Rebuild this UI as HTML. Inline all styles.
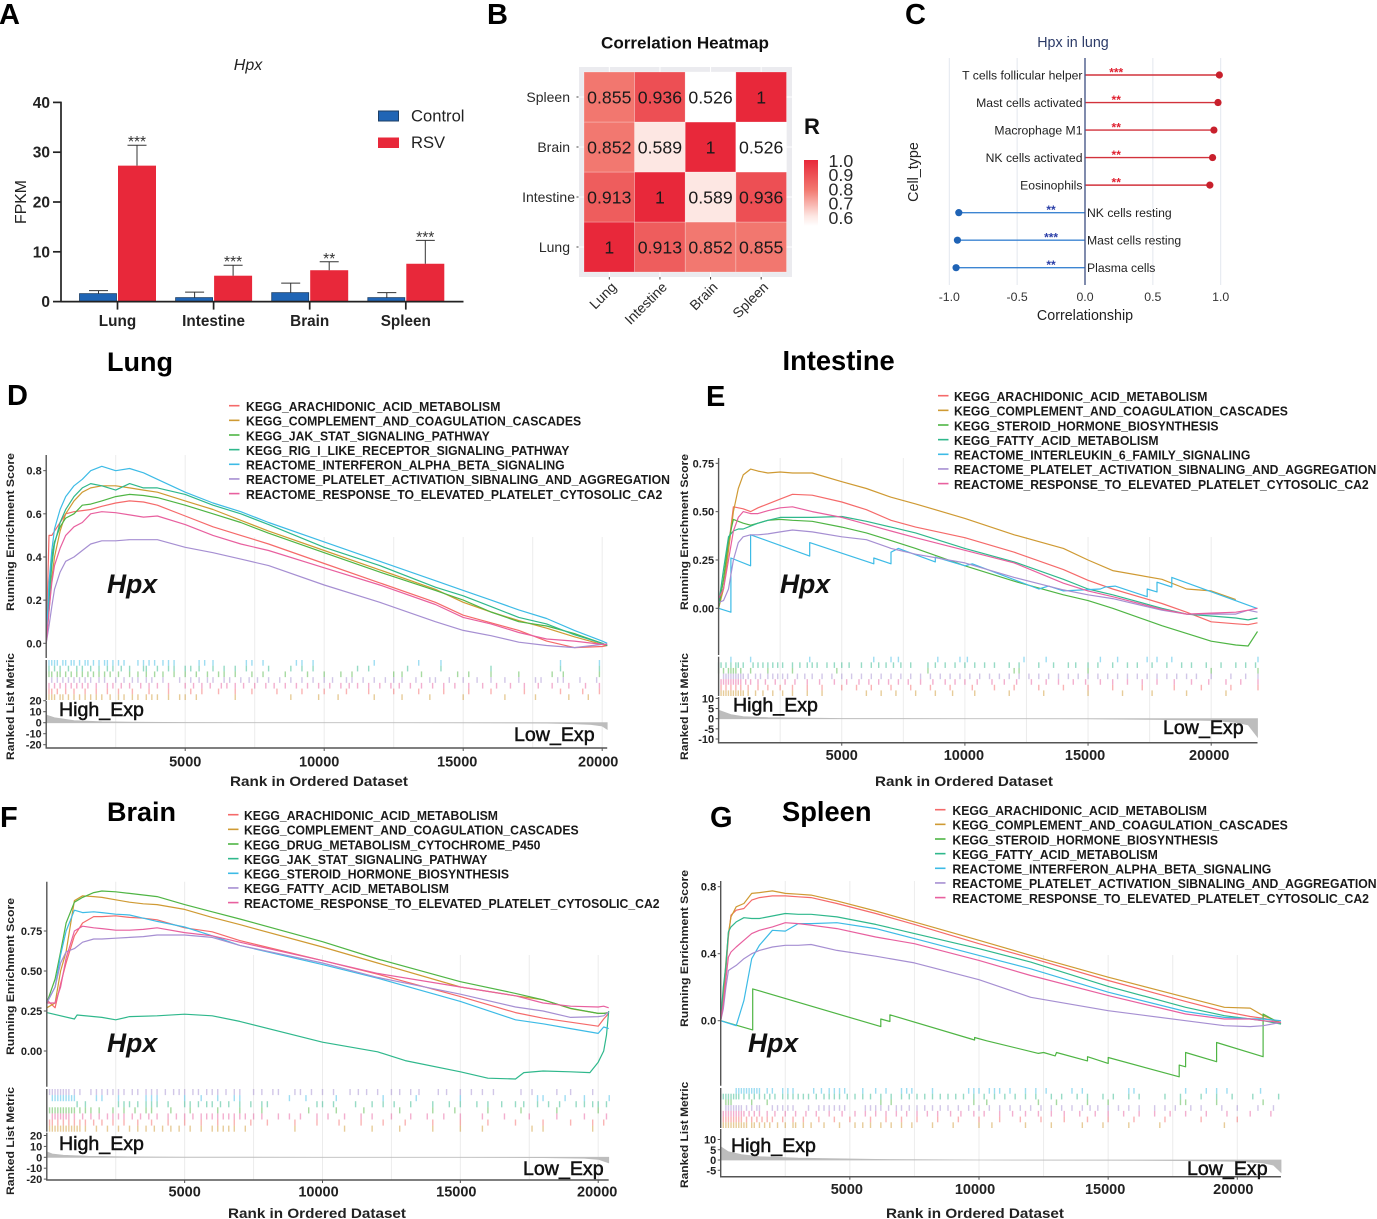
<!DOCTYPE html>
<html lang="en">
<head>
<meta charset="utf-8">
<title>Hpx expression, correlation and GSEA figure</title>
<style>
html,body{margin:0;padding:0;background:#fff;}
svg{display:block;}
text{font-family:"Liberation Sans",sans-serif;}
.b{font-weight:bold;}
</style>
</head>
<body>
<svg id="fig" xmlns="http://www.w3.org/2000/svg" width="1377" height="1219" viewBox="0 0 1377 1219">
  <rect x="0" y="0" width="1377" height="1219" fill="#fff"/>
  <text class="b" x="-1" y="24" font-size="29">A</text>
  <text class="b" x="487" y="24" font-size="29">B</text>
  <text class="b" x="905" y="24" font-size="29">C</text>
  <text class="b" x="7" y="405" font-size="29">D</text>
  <text class="b" x="706" y="406" font-size="29">E</text>
  <text class="b" x="0" y="827" font-size="29">F</text>
  <text class="b" x="710" y="827" font-size="29">G</text>
  <text class="b" x="107" y="371" font-size="27">Lung</text>
  <text class="b" x="782.5" y="370" font-size="27.3">Intestine</text>
  <text class="b" x="107" y="821" font-size="27">Brain</text>
  <text class="b" x="782" y="821" font-size="27.3">Spleen</text>

  <g id="panel-a">
    <text x="248" y="70" font-size="16" font-style="italic" text-anchor="middle" fill="#222">Hpx</text>
    <text x="26" y="202" font-size="15.8" text-anchor="middle" fill="#222" transform="rotate(-90 26 202)">FPKM</text>
    <rect x="378.5" y="111" width="20" height="10" fill="#2065b5" stroke="#1d3f66" stroke-width="1"/>
    <text x="411" y="121.5" font-size="16.6" fill="#222">Control</text>
    <rect x="378" y="137.5" width="21" height="10.5" fill="#e8283a"/>
    <text x="411" y="148" font-size="16.6" fill="#222">RSV</text>
  </g>

  <g id="panel-b">
    <text class="b" x="685" y="48.5" font-size="16.5" text-anchor="middle" textLength="168" lengthAdjust="spacingAndGlyphs" fill="#111">Correlation Heatmap</text>
    <rect x="579" y="67" width="213" height="210" fill="#ebebef"/>
    <text class="b" x="804" y="134" font-size="22" fill="#111">R</text>
  </g>

  <g id="panel-c">
    <text x="1073" y="47" font-size="14.3" text-anchor="middle" fill="#2b3a67">Hpx in lung</text>
    <text x="1085" y="320" font-size="14.3" text-anchor="middle" fill="#222">Correlationship</text>
    <text x="918" y="172" font-size="14.3" text-anchor="middle" fill="#222" transform="rotate(-90 918 172)">Cell_type</text>
  </g>

  <g id="panel-d"></g>
  <g id="panel-e"></g>
  <g id="panel-f"></g>
  <g id="panel-g"></g>
</svg>

<script>
/* ---------- Panel A data ---------- */
const barCategories = ["Lung","Intestine","Brain","Spleen"];
const controlMeans = [1.6,0.8,1.8,0.8];
const controlUpper = [2.2,1.9,3.7,1.8];
const rsvMeans = [27.3,5.2,6.3,7.6];
const rsvUpper = [31.4,7.3,8.0,12.3];
const barStars = ["***","***","**","***"];
const barTicks = [0,10,20,30,40];

/* ---------- Panel B data ---------- */
const heatCategories = ["Lung","Intestine","Brain","Spleen"];
const heatLung = [1,0.913,0.852,0.855];
const heatIntestine = [0.913,1,0.589,0.936];
const heatBrain = [0.852,0.589,1,0.526];
const heatSpleen = [0.855,0.936,0.526,1];
const colorbarTicks = [1.0,0.9,0.8,0.7,0.6];

/* ---------- Panel C data ---------- */
const cellTypes = ["T cells follicular helper","Mast cells activated","Macrophage M1","NK cells activated","Eosinophils","NK cells resting","Mast cells resting","Plasma cells"];
const correlations = [0.99,0.98,0.95,0.94,0.92,-0.93,-0.94,-0.95];
const cellStars = ["***","**","**","**","**","**","***","**"];
const corrTicks = [-1,-0.5,0,0.5,1];

/* ---------- Shared GSEA ---------- */
const rankTicks = [5000,10000,15000,20000];

/* ---------- Panel D: lung ---------- */
const lungPathways = ["KEGG_ARACHIDONIC_ACID_METABOLISM","KEGG_COMPLEMENT_AND_COAGULATION_CASCADES","KEGG_JAK_STAT_SIGNALING_PATHWAY","KEGG_RIG_I_LIKE_RECEPTOR_SIGNALING_PATHWAY","REACTOME_INTERFERON_ALPHA_BETA_SIGNALING","REACTOME_PLATELET_ACTIVATION_SIBNALING_AND_AGGREGATION","REACTOME_RESPONSE_TO_ELEVATED_PLATELET_CYTOSOLIC_CA2"];
const lungRanks = [0,100,200,300,500,700,1000,1300,1600,2000,2500,3000,3500,4000,5000,6000,7000,8000,10000,12000,14000,15000,16000,17000,18000,19000,20000,20180];
const lungArachidonic = [0,.5,.5,.52,.56,.6,.61,.615,.62,.635,.65,.66,.655,.64,.59,.54,.5,.46,.37,.28,.19,.13,.095,.06,.01,-.02,-.015,-.01];
const lungComplement = [0,.15,.3,.4,.52,.6,.66,.7,.72,.73,.73,.72,.71,.7,.66,.62,.57,.52,.43,.34,.25,.19,.145,.105,.07,.03,-.005,-.01];
const lungJakStat = [0,.25,.4,.47,.54,.58,.6,.64,.645,.66,.68,.69,.685,.675,.64,.6,.56,.51,.42,.33,.245,.2,.145,.1,.08,.045,0,-.01];
const lungRigI = [0,.2,.36,.46,.56,.62,.68,.72,.74,.73,.71,.74,.72,.72,.69,.64,.6,.55,.445,.36,.26,.22,.17,.12,.09,.04,0,-.01];
const lungInterferon = [0,.28,.43,.53,.62,.68,.73,.76,.8,.82,.8,.81,.79,.76,.7,.65,.61,.56,.47,.38,.29,.245,.2,.155,.115,.06,.01,0];
const lungPlatelet = [0,.08,.17,.25,.33,.38,.4,.43,.46,.475,.475,.48,.48,.48,.445,.42,.39,.36,.27,.19,.1,.06,.035,.005,-.01,-.02,-.005,-.005];
const lungResponse = [0,.15,.28,.36,.44,.5,.54,.56,.6,.61,.605,.595,.585,.59,.55,.5,.46,.43,.35,.27,.18,.12,.09,.05,.02,.01,-.005,-.005];
const lungMetricRanks = [0,300,1000,2000,3500,5000,10000,15000,18000,19000,19600,20000,20180];
const lungMetricValues = [7,4.5,1.8,.8,.4,.2,0,-.1,-.4,-.9,-1.6,-3,-6];
const lungRugArachidonic = [0,1,2,4,7,10,14,18,22,26,31,37,44,52,56,62,68,74,83,92,100,108,116,125,134,143,152,160,172,185,193,199];
const lungRugComplement = [0,1,2,3,5,6,8,10,12,14,16,18,20,23,26,28,31,33,36,38,40,44,48,50,54,68,88,98,105,118,128,138,150,165,176,188,195];
const lungRugJakStat = [0,1,2,4,5,7,9,11,13,15,17,19,21,23,26,30,33,36,39,42,46,50,54,58,62,64,68,74,78,86,94,100,106,110,125,128,135,148,152,160,170,182,186,199];
const lungRugRigI = [1,3,5,8,11,13,16,19,22,24,27,30,35,36,40,44,46,50,52,55,60,64,68,72,80,88,92,96,112,116,130,142,160,185,199];
const lungRugInterferon = [1,2,3,4,6,7,9,10,12,14,15,17,19,21,22,24,26,28,33,35,37,39,42,44,46,55,57,60,72,74,78,90,92,96,118,134,142,185,199];
const lungRugPlatelet = [0,2,4,6,8,10,12,14,16,19,21,25,28,31,33,36,38,42,48,52,55,58,60,64,66,70,73,76,80,84,88,92,96,100,103,108,110,114,118,122,125,128,133,138,140,145,150,155,160,165,170,176,178,184,186,192,198];
const lungRugResponse = [1,3,5,7,9,11,13,15,18,22,24,27,30,34,37,40,44,50,53,56,59,63,65,68,71,75,79,82,86,90,94,98,102,106,109,112,116,120,124,127,131,135,139,143,147,152,157,162,167,172,177,182,188,194,199];

/* ---------- Panel E: intestine ---------- */
const intestinePathways = ["KEGG_ARACHIDONIC_ACID_METABOLISM","KEGG_COMPLEMENT_AND_COAGULATION_CASCADES","KEGG_STEROID_HORMONE_BIOSYNTHESIS","KEGG_FATTY_ACID_METABOLISM","REACTOME_INTERLEUKIN_6_FAMILY_SIGNALING","REACTOME_PLATELET_ACTIVATION_SIBNALING_AND_AGGREGATION","REACTOME_RESPONSE_TO_ELEVATED_PLATELET_CYTOSOLIC_CA2"];
const intestineRanks = [0,200,400,600,800,1000,1300,1600,2000,2500,3000,3800,5000,6000,7000,8000,10000,12000,14000,15000,16000,18000,19000,20000,21000,21500,21880];
const intestineArachidonic = [0,.15,.32,.525,.52,.515,.5,.52,.54,.565,.59,.585,.55,.51,.455,.42,.365,.29,.2,.145,.1,.025,-.02,-.07,-.08,-.085,-.075];
const intestineComplement = [0,.1,.3,.5,.62,.69,.72,.71,.7,.705,.7,.7,.655,.62,.575,.54,.465,.38,.31,.25,.195,.15,.1,.09,.045];
const intestineSteroid = [0,.15,.35,.46,.45,.44,.43,.44,.455,.46,.455,.45,.42,.39,.35,.31,.22,.14,.07,.04,0,-.09,-.13,-.17,-.19,-.195,-.12];
const intestineFatty = [.02,.2,.37,.4,.41,.41,.425,.44,.455,.47,.47,.47,.475,.45,.42,.39,.31,.24,.15,.1,.07,0,-.03,-.04,-.05,-.06,-.05];
const intestineIl6Ranks = [0,500,500,1300,1300,3700,3700,6300,6300,7000,7000,7300,8800,8800,10000,10300,13000,13400,14000,15500,15700,16100,17400,17400,17800,17800,18400,18400,21850,21880];
const intestineIl6 = [0,-.02,.26,.22,.38,.27,.34,.23,.26,.23,.29,.31,.24,.265,.22,.23,.1,.115,.09,.1,.11,.115,.06,.1,.085,.135,.11,.16,0,0];
const intestinePlatelet = [.03,.04,.1,.25,.34,.37,.38,.38,.385,.395,.405,.395,.37,.355,.31,.28,.235,.16,.095,.07,.05,-.01,-.03,-.03,-.03,-.01,-.02];
const intestineResponse = [.05,.1,.25,.4,.47,.5,.49,.49,.505,.52,.525,.5,.47,.435,.4,.365,.3,.235,.13,.09,.06,-.005,-.03,-.025,-.02,-.01,0];
const intestineMetricRanks = [0,500,1000,2000,5000,10000,15000,18000,20000,21000,21500,21880];
const intestineMetricValues = [4.2,2,1,.5,.1,0,-.1,-.4,-.9,-1.8,-3,-9];
const intestineRugArachidonic = [1,3,5,7,9,12,16,20,25,30,36,42,50,56,62,70,78,86,94,103,112,120,130,140,150,160,172,185,196,208,219];
const intestineRugComplement = [1,2,3,4,5,6,7,8,9,10,12,15,18,22,26,30,36,42,60,66,72,80,88,95,104,118,132,150,164,176,190,206];
const intestineRugSteroid = [0,2,4,5,6,7,9,13,20,30,48,85,120,122,150,200,219];
const intestineRugFatty = [0,1,3,5,7,8,10,14,16,18,20,22,24,26,30,33,36,38,40,44,47,50,53,58,62,65,68,71,74,78,85,88,92,96,100,104,108,112,118,122,130,136,142,145,150,154,160,166,170,176,182,188,192,198,204,210,214,218];
const intestineRugIl6 = [5,13,37,63,70,73,89,98,101,124,133,155,162,174,178,184,219];
const intestineRugPlatelet = [2,3,4,5,6,7,8,9,10,12,15,17,20,22,24,26,28,32,35,38,42,46,50,54,58,62,66,70,74,78,82,86,90,94,98,102,106,110,114,118,122,126,130,134,138,142,146,150,154,158,162,166,170,174,178,182,186,190,194,200,208,214,219];
const intestineRugResponse = [1,2,3,4,5,6,7,8,9,11,13,16,19,23,27,31,36,41,47,52,57,61,65,69,73,77,82,87,92,96,100,105,111,116,121,127,133,138,144,149,155,160,166,172,178,185,192,199,206,212,219];

/* ---------- Panel F: brain ---------- */
const brainPathways = ["KEGG_ARACHIDONIC_ACID_METABOLISM","KEGG_COMPLEMENT_AND_COAGULATION_CASCADES","KEGG_DRUG_METABOLISM_CYTOCHROME_P450","KEGG_JAK_STAT_SIGNALING_PATHWAY","KEGG_STEROID_HORMONE_BIOSYNTHESIS","KEGG_FATTY_ACID_METABOLISM","REACTOME_RESPONSE_TO_ELEVATED_PLATELET_CYTOSOLIC_CA2"];
const brainRanks = [0,300,500,700,1000,1300,1700,2000,2500,3000,3500,4000,5000,6000,7000,10000,12000,15000,17000,18000,19000,20000,20200,20380];
const brainArachidonic = [.32,.27,.42,.55,.72,.8,.84,.84,.845,.835,.83,.82,.77,.745,.69,.565,.48,.34,.24,.205,.18,.155,.2,.235];
const brainComplement = [.27,.3,.5,.62,.94,.97,.965,.96,.945,.93,.92,.915,.885,.835,.79,.65,.55,.4,.345,.32,.265,.235,.235,.24];
const brainDrug = [.3,.45,.62,.8,.93,.96,.99,1,.995,.985,.975,.965,.915,.87,.825,.683,.575,.433,.36,.32,.267,.235,.235,.24];
const brainJakRanks = [0,1000,1100,2000,2500,3000,4000,5000,6000,7000,10000,12000,13000,15000,16000,17000,17300,18000,19000,19700,20000,20200,20300,20380];
const brainJak = [.24,.2,.225,.21,.195,.215,.22,.23,.22,.185,.055,-.005,-.06,-.13,-.17,-.175,-.135,-.125,-.13,-.135,-.07,0,.1,.25];
const brainSteroid = [.3,.4,.6,.75,.88,.865,.87,.865,.855,.85,.83,.81,.775,.72,.66,.54,.455,.31,.195,.17,.14,.11,.15,.14];
const brainFatty = [.3,.4,.55,.62,.64,.68,.7,.7,.705,.71,.715,.725,.725,.71,.66,.55,.46,.355,.275,.25,.21,.215,.22,.245];
const brainResponse = [.3,.3,.4,.58,.75,.78,.77,.765,.755,.755,.76,.77,.74,.72,.68,.565,.485,.4,.345,.3,.28,.275,.28,.27];
const brainMetricRanks = [0,200,600,1500,3000,5000,10000,15000,18000,19500,20000,20380];
const brainMetricValues = [5,3,1.8,.9,.4,.2,0,-.1,-.3,-.8,-1.8,-5];
const brainRugArachidonic = [1,2,4,6,8,10,12,14,17,20,24,28,33,38,44,50,56,62,68,74,80,90,98,106,114,122,130,140,150,160,170,180,190,198,202];
const brainRugComplement = [1,2,3,4,5,6,7,8,9,10,11,12,14,18,22,26,30,33,36,39,42,45,48,52,56,60,62,64,66,68,72,90,108,118,128,140,150,158,176,180,198];
const brainRugDrug = [1,2,3,4,5,6,7,8,9,10,12,14,16,19,24,28,32,36,38,45,52,62,70,78,95,105,115,128,140,148,160,172,185,200];
const brainRugJak = [11,14,26,28,30,33,36,38,40,44,50,52,55,58,60,63,66,70,74,78,80,98,100,104,112,118,122,126,132,140,146,150,156,160,165,170,173,178,182,186,192,195,198,200,203];
const brainRugSteroid = [2,3,4,5,6,7,8,9,10,18,20,26,36,38,40,50,56,62,68,70,88,94,105,122,134,150,178,180,188,195,204];
const brainRugFatty = [0,1,2,3,4,5,6,7,8,10,12,16,18,20,22,24,26,28,31,33,36,38,40,43,46,48,50,53,55,58,60,62,65,68,70,75,78,82,84,90,92,96,100,104,110,113,116,120,125,128,132,135,142,145,150,154,158,162,172,176,185,190,198];
const brainRugResponse = [2,3,4,5,6,7,8,10,13,16,19,22,24,26,28,31,34,37,40,44,47,50,53,56,58,60,62,64,66,68,70,72,75,78,84,88,92,98,102,108,114,118,125,132,138,144,150,158,166,175,185,195,203];

/* ---------- Panel G: spleen ---------- */
const spleenPathways = ["KEGG_ARACHIDONIC_ACID_METABOLISM","KEGG_COMPLEMENT_AND_COAGULATION_CASCADES","KEGG_STEROID_HORMONE_BIOSYNTHESIS","KEGG_FATTY_ACID_METABOLISM","REACTOME_INTERFERON_ALPHA_BETA_SIGNALING","REACTOME_PLATELET_ACTIVATION_SIBNALING_AND_AGGREGATION","REACTOME_RESPONSE_TO_ELEVATED_PLATELET_CYTOSOLIC_CA2"];
const spleenRanks = [0,100,200,300,400,600,900,1200,1500,2000,2500,3000,3500,4500,6000,7500,10000,12000,15000,18000,19500,20500,21000,21690];
const spleenArachidonic = [0,.12,.3,.5,.63,.66,.67,.72,.735,.745,.745,.74,.735,.7,.64,.575,.46,.375,.24,.115,.055,.025,.015,-.01];
const spleenComplement = [0,.15,.35,.52,.62,.68,.7,.76,.765,.775,.76,.755,.75,.715,.655,.59,.48,.39,.26,.14,.08,.075,.03,-.01];
const spleenSteroidRanks = [0,1240,1240,6200,6200,6550,6550,9830,9830,10300,12300,12500,12950,13000,14200,14200,15000,15000,17750,17750,18000,18000,19200,19200,21000,21000,21690];
const spleenSteroid = [0,-.055,.19,-.035,.01,-.005,.035,-.115,-.1,-.12,-.195,-.19,-.21,-.19,-.24,-.215,-.255,-.22,-.335,-.265,-.275,-.19,-.245,-.13,-.215,.04,-.02];
const spleenFatty = [0,.2,.33,.53,.56,.59,.615,.61,.61,.625,.64,.635,.635,.62,.575,.52,.43,.35,.205,.08,.03,.01,0,-.02];
const spleenInterferon = [0,-.005,-.01,-.015,-.02,-.03,.12,.37,.45,.54,.535,.58,.58,.585,.55,.49,.39,.31,.17,.055,.02,.012,.01,0];
const spleenPlatelet = [0,.07,.2,.3,.31,.33,.37,.4,.42,.44,.45,.45,.455,.42,.385,.345,.245,.14,.06,0,-.03,-.035,-.03,-.01];
const spleenResponse = [0,.1,.25,.38,.41,.44,.48,.52,.54,.56,.585,.58,.57,.55,.5,.46,.36,.27,.15,.04,.01,.01,0,-.01];
const spleenMetricRanks = [0,300,800,1500,3000,6000,10000,15000,18000,20000,21000,21400,21690];
const spleenMetricValues = [6.5,4,2.6,1.6,.9,.3,0,-.1,-.3,-.7,-1.4,-2.5,-6];
const spleenRugArachidonic = [1,2,3,4,5,6,7,8,10,12,14,16,18,20,24,28,32,38,44,50,58,64,70,76,84,92,100,108,116,124,133,142,150,160,172,186,200];
const spleenRugComplement = [1,2,3,4,5,6,7,8,9,10,12,13,15,17,19,22,25,28,29,32,35,40,46,52,55,58,62,66,70,74,82,90,100,105,118,128,140,148,158,170,195];
const spleenRugSteroid = [2,3,4,12,18,62,66,98,103,123,130,142,150,178,180,192,210];
const spleenRugFatty = [0,1,2,3,4,5,6,7,9,11,13,15,17,19,21,24,26,28,30,32,34,37,40,42,44,46,49,52,55,58,62,66,70,73,76,79,82,85,88,91,94,98,102,106,110,114,118,122,128,132,138,142,148,152,158,162,172,178,186,192,198,206,216];
const spleenRugInterferon = [6,7,8,9,10,11,12,13,14,15,18,20,24,26,28,36,39,42,44,46,48,55,60,64,70,72,74,82,96,98,100,104,106,108,112,118,122,126,136,140,158,160,180,188,192,196,209];
const spleenRugPlatelet = [2,3,4,5,6,7,8,10,12,14,15,20,22,24,26,28,34,38,40,42,44,46,48,56,58,60,62,65,68,70,73,76,79,82,85,88,92,96,100,104,108,112,116,120,124,128,132,136,140,143,146,150,154,158,162,168,172,176,182,186,194,200,208,214];
const spleenRugResponse = [1,2,3,4,5,6,7,8,9,11,13,15,18,21,25,29,33,37,42,47,52,56,60,64,68,72,76,80,84,89,93,98,102,108,113,118,123,128,133,139,145,150,156,162,168,174,180,188,196,205,213];

/* ---------- Helpers ---------- */
const NS = "http://www.w3.org/2000/svg";
function mk(parent, tag, attrs, txt){
  const el = document.createElementNS(NS, tag);
  for (const k in attrs) el.setAttribute(k, attrs[k]);
  if (txt !== undefined) el.textContent = txt;
  parent.appendChild(el);
  return el;
}
function linear(d0, r0, d1, r1){
  return function(v){ return r0 + (v - d0) * (r1 - r0) / (d1 - d0); };
}
function slug(s){ return String(s).toLowerCase().replace(/[^a-z0-9]+/g,'-').replace(/^-|-$/g,''); }

/* ---------- Panel A ---------- */
(function(){
  const g = document.getElementById('panel-a');
  const y = linear(0, 301.6, 40, 102.4);
  const xc = linear(0, 117.5, 1, 213.6);
  const axisX = 61, barW = 38;
  barTicks.forEach(function(t){
    const tick = mk(g,'line',{x1:axisX-8,x2:axisX,y1:y(t),y2:y(t),stroke:'#222','stroke-width':1.7});
    
    
    const lab = mk(g,'text',{x:50,y:y(t)+5.5,'font-size':15.5,'font-weight':'bold','text-anchor':'end',fill:'#222'},t);
    
    
  });
  barCategories.forEach(function(c,i){
    const cx = xc(i);
    const ctl = mk(g,'rect',{x:cx-barW,y:y(controlMeans[i]),width:barW-1,height:y(0)-y(controlMeans[i]),fill:'#2065b5',stroke:'#1d3f66','stroke-width':.8});
    
    
    const ctlErr = mk(g,'path',{d:'M'+(cx-19)+' '+y(controlMeans[i])+'V'+y(controlUpper[i])+'m-9.5 0h19',fill:'none',stroke:'#333','stroke-width':1});
    
    
    const rsv = mk(g,'rect',{x:cx+.5,y:y(rsvMeans[i]),width:barW,height:y(0)-y(rsvMeans[i]),fill:'#e8283a'});
    
    
    const rsvErr = mk(g,'path',{d:'M'+(cx+19.5)+' '+y(rsvMeans[i])+'V'+y(rsvUpper[i])+'m-9.5 0h19',fill:'none',stroke:'#333','stroke-width':1});
    
    
    const st = mk(g,'text',{x:cx+19.5,y:y(rsvUpper[i])+2,'font-size':15.5,'text-anchor':'middle',fill:'#333'},barStars[i]);
    
    
    const tick = mk(g,'line',{x1:cx,x2:cx,y1:y(0),y2:y(0)+8,stroke:'#222','stroke-width':1.7});
    
    
    const lab = mk(g,'text',{x:cx,y:326,'font-size':15.3,'font-weight':'bold','text-anchor':'middle',fill:'#222'},c);
    
    
  });
  const ya = mk(g,'line',{x1:axisX,x2:axisX,y1:y(40)-.8,y2:y(0)+.8,stroke:'#222','stroke-width':1.7});
  
  
  const xa = mk(g,'line',{x1:axisX,x2:463.5,y1:y(0),y2:y(0),stroke:'#222','stroke-width':1.7});
  
  
})();

/* ---------- Panel B ---------- */
(function(){
  const g = document.getElementById('panel-b');
  const rows = [heatLung,heatIntestine,heatBrain,heatSpleen];
  const xCol = linear(0,584,4,786.5);
  const yRow = linear(0,272,4,72);
  function heatColor(v){
    const t = (v-0.526)/0.474;
    const stops = [[0,255,255,255],[.133,253,231,227],[.69,242,120,112],[.82,238,92,92],[1,232,40,58]];
    for (let i=1;i<stops.length;i++){
      if (t<=stops[i][0]){
        const a=stops[i-1], b=stops[i], f=(t-a[0])/(b[0]-a[0]);
        return 'rgb('+[1,2,3].map(function(k){return Math.round(a[k]+(b[k]-a[k])*f);}).join(',')+')';
      }
    }
    return '#e8283a';
  }
  heatCategories.forEach(function(c,i){
    const ly = (yRow(i)+yRow(i+1))/2;
    const lx = (xCol(i)+xCol(i+1))/2;
    const gh = mk(g,'line',{x1:579,x2:792,y1:ly,y2:ly,stroke:'#fff','stroke-width':1});
    
    
    const gv = mk(g,'line',{x1:lx,x2:lx,y1:67,y2:277,stroke:'#fff','stroke-width':1});
    
    
  });
  rows.forEach(function(row,r){
    row.forEach(function(v,c){
      const cell = mk(g,'rect',{x:xCol(c),y:yRow(r+1),width:xCol(c+1)-xCol(c),height:yRow(r)-yRow(r+1),fill:heatColor(v),stroke:'#fff','stroke-opacity':.35,'stroke-width':.7});
      
      
      const t = mk(g,'text',{x:(xCol(c)+xCol(c+1))/2,y:(yRow(r)+yRow(r+1))/2+6.3,'font-size':17.7,'text-anchor':'middle',fill:'#1a1a1a'},String(v));
      
      
    });
  });
  heatCategories.forEach(function(c,i){
    const ly = (yRow(i)+yRow(i+1))/2;
    const lx = (xCol(i)+xCol(i+1))/2;
    const yl = mk(g,'text',{x:c==='Intestine'?575:570,y:ly+5,'font-size':14,'text-anchor':'end',fill:'#2a2a2a'},c);
    
    
    const yt = mk(g,'line',{x1:576.5,x2:578.5,y1:ly,y2:ly,stroke:'#444','stroke-width':1});
    
    
    const xt = mk(g,'line',{x1:lx,x2:lx,y1:277,y2:279.5,stroke:'#444','stroke-width':1});
    
    
    const ax = lx+8, ay = 288;
    const xl = mk(g,'text',{x:ax,y:ay,'font-size':14,'text-anchor':'end',fill:'#2a2a2a',transform:'rotate(-45 '+ax+' '+ay+')'},c);
    
    
  });
  const defs = mk(g,'defs',{});
  const grad = mk(defs,'linearGradient',{id:'rGrad',x1:0,y1:0,x2:0,y2:1});
  mk(grad,'stop',{offset:'0','stop-color':'#e8283a'});
  mk(grad,'stop',{offset:'.45','stop-color':'#f2786f'});
  mk(grad,'stop',{offset:'.85','stop-color':'#fde7e3'});
  mk(grad,'stop',{offset:'1','stop-color':'#ffffff'});
  const bar = mk(g,'rect',{x:804,y:160,width:14,height:66,fill:'url(#rGrad)'});
  
  
  const cy = linear(1,160.7,0.6,217.5);
  colorbarTicks.forEach(function(t){
    const l = mk(g,'text',{x:828.5,y:cy(t)+6.3,'font-size':17.8,fill:'#2a2a2a'},t.toFixed(1));
    
    
  });
})();

/* ---------- Panel C ---------- */
(function(){
  const g = document.getElementById('panel-c');
  const x = linear(-1,949.3,1,1220.7);
  const y = linear(0,75,7,267.7);
  corrTicks.forEach(function(t){
    if (t!==0){
      const gl = mk(g,'line',{x1:x(t),x2:x(t),y1:58,y2:285,stroke:'#e3e7ee','stroke-width':1});
      
      
    }
    const lab = mk(g,'text',{x:x(t),y:301,'font-size':12.3,'text-anchor':'middle',fill:'#333'},t.toFixed(1));
    
    
  });
  cellTypes.forEach(function(c,i){
    const v = correlations[i], pos = v>0;
    const line = mk(g,'line',{x1:x(0),x2:x(v),y1:y(i),y2:y(i),stroke:pos?'#d2323c':'#3d85d2','stroke-width':1.4});
    
    
    const dot = mk(g,'circle',{cx:x(v),cy:y(i),r:3.6,fill:pos?'#c8202c':'#1f63b5'});
    
    
    const lab = mk(g,'text',{x:pos?1082.5:1087,y:y(i)+4.3,'font-size':12.2,'text-anchor':pos?'end':'start',fill:'#222'},c);
    
    
    const st = mk(g,'text',{x:x(pos?0.23:-0.25),y:y(i)+1.5,'font-size':12,'font-weight':'bold','text-anchor':'middle',fill:pos?'#e02030':'#2b3fa8'},cellStars[i]);
    
    
  });
  const z = mk(g,'line',{x1:x(0),x2:x(0),y1:58,y2:285,stroke:'#4a5a8a','stroke-width':1.4});
  
  
})();

/* ---------- Panels D-G ---------- */
const pathwayColors = ['#f56a6a','#cf9a33','#4fb544','#2fb88c','#3dbbe6','#a68fd2','#e8609f'];

function drawGsea(cfg){
  const g = document.getElementById(cfg.id);
  const x = function(r){ return cfg.x0 + r*cfg.pxPerRank; };
  const yScore = function(v){ return cfg.score0 - v*cfg.pxPerScore; };
  const yMetric = function(v){ return cfg.metric0 - v*cfg.pxPerMetric; };
  const xEnd = x(cfg.maxRank);

  for (let r=2500; r<=cfg.maxRank; r+=2500){
    const px = x(r);
    const top = px>cfg.clipX ? cfg.clipY : cfg.top;
    const gl = mk(g,'line',{x1:px,x2:px,y1:top,y2:cfg.axisY,stroke:'#ececec','stroke-width':1});
    
    
  }

  const rowH = (cfg.rugBottom-cfg.rugTop)/7;
  cfg.rugOrder.forEach(function(si,row){
    cfg.rugs[si].forEach(function(h){
      const t = mk(g,'line',{x1:x(h*100),x2:x(h*100),y1:cfg.rugTop+row*rowH,y2:cfg.rugTop+(row+1)*rowH,stroke:pathwayColors[si],'stroke-width':1.4,'stroke-opacity':.5});
      
      
    });
  });

  let area = 'M'+x(cfg.metricRanks[0])+' '+yMetric(0);
  cfg.metricRanks.forEach(function(r,i){ area += 'L'+x(r).toFixed(1)+' '+yMetric(cfg.metricValues[i]).toFixed(1); });
  area += 'L'+x(cfg.metricRanks[cfg.metricRanks.length-1]).toFixed(1)+' '+yMetric(0)+'Z';
  const a = mk(g,'path',{d:area,fill:'#bdbdbd',stroke:'#bdbdbd','stroke-width':.8});
  
  

  cfg.series.forEach(function(s,i){
    let d = '';
    s.values.forEach(function(v,k){ d += (k?'L':'M')+x(s.ranks[k]).toFixed(1)+' '+yScore(v).toFixed(1); });
    const p = mk(g,'path',{d:d,fill:'none',stroke:pathwayColors[i],'stroke-width':1.2,'stroke-linejoin':'round'});
    
    
  });

  const axisColor = '#555';
  const ya1 = mk(g,'line',{x1:cfg.x0,x2:cfg.x0,y1:cfg.top,y2:cfg.panelBottom,stroke:axisColor,'stroke-width':1.4});
  
  
  const ya2 = mk(g,'line',{x1:cfg.x0,x2:cfg.x0,y1:cfg.rugTop,y2:cfg.rugBottom,stroke:axisColor,'stroke-width':1.4});
  
  
  const ya3 = mk(g,'line',{x1:cfg.x0,x2:cfg.x0,y1:cfg.rugBottom+1,y2:cfg.axisY,stroke:axisColor,'stroke-width':1.4});
  
  
  const xa = mk(g,'line',{x1:cfg.x0-.7,x2:xEnd,y1:cfg.axisY,y2:cfg.axisY,stroke:axisColor,'stroke-width':1.5});
  
  

  cfg.scoreTicks.forEach(function(t){
    const tk = mk(g,'line',{x1:cfg.x0-3,x2:cfg.x0,y1:yScore(t),y2:yScore(t),stroke:axisColor,'stroke-width':1});
    
    
    const l = mk(g,'text',{x:cfg.x0-4.5,y:yScore(t)+4,'font-size':11,'font-weight':'bold','text-anchor':'end',fill:'#222'},t.toFixed(cfg.scoreDigits));
    
    
  });
  cfg.metricTicks.forEach(function(t){
    const tk = mk(g,'line',{x1:cfg.x0-3,x2:cfg.x0,y1:yMetric(t),y2:yMetric(t),stroke:axisColor,'stroke-width':1});
    
    
    const l = mk(g,'text',{x:cfg.x0-4.5,y:yMetric(t)+4,'font-size':11,'font-weight':'bold','text-anchor':'end',fill:'#222'},t);
    
    
  });
  rankTicks.forEach(function(t,i){
    const tk = mk(g,'line',{x1:x(t),x2:x(t),y1:cfg.axisY,y2:cfg.axisY+3,stroke:axisColor,'stroke-width':1});
    
    
    const l = mk(g,'text',{x:x(t)+cfg.tickShift[i],y:cfg.tickBase,'font-size':14.5,'font-weight':'bold','text-anchor':'middle',fill:'#222'},t);
    
    
  });

  const xt = mk(g,'text',{x:cfg.titleX,y:cfg.titleBase,'font-size':14,'font-weight':'bold','text-anchor':'middle',textLength:178,lengthAdjust:'spacingAndGlyphs',fill:'#222'},'Rank in Ordered Dataset');
  
  
  const c1 = (cfg.runTop+cfg.runBottom)/2;
  const y1t = mk(g,'text',{x:cfg.yTitleX,y:c1,'font-size':11.3,'font-weight':'bold','text-anchor':'middle',textLength:cfg.runBottom-cfg.runTop,lengthAdjust:'spacingAndGlyphs',fill:'#222',transform:'rotate(-90 '+cfg.yTitleX+' '+c1+')'},'Running Enrichment Score');
  
  
  const c2 = (cfg.rankedTop+cfg.rankedBottom)/2;
  const y2t = mk(g,'text',{x:cfg.yTitleX,y:c2,'font-size':11.3,'font-weight':'bold','text-anchor':'middle',textLength:cfg.rankedBottom-cfg.rankedTop,lengthAdjust:'spacingAndGlyphs',fill:'#222',transform:'rotate(-90 '+cfg.yTitleX+' '+c2+')'},'Ranked List Metric');
  
  

  const hp = mk(g,'text',{x:cfg.hpxX,y:cfg.hpxY,'font-size':26.5,'font-weight':'bold','font-style':'italic',fill:'#111'},'Hpx');
  
  
  const hi = mk(g,'text',{x:cfg.highX,y:cfg.highY,'font-size':19.6,fill:'#111',stroke:'#111','stroke-width':.5},'High_Exp');
  
  
  const lo = mk(g,'text',{x:cfg.lowX,y:cfg.lowY,'font-size':19.6,fill:'#111',stroke:'#111','stroke-width':.5},'Low_Exp');
  
  

  const leg = mk(g,'g',{});
  
  
  const labels = [];
  let longest = 0;
  cfg.pathways.forEach(function(p,i){
    const ly = cfg.legY + i*cfg.legStep;
    const sw = mk(leg,'line',{x1:cfg.swatchX,x2:cfg.swatchX+10.5,y1:ly-1,y2:ly-1,stroke:pathwayColors[i],'stroke-width':1.6});
    
    
    const t = mk(leg,'text',{x:0,y:ly+4.3,'font-size':12.5,'font-weight':'bold',fill:'#1a1a1a'},p);
    
    
    labels.push(t);
    longest = Math.max(longest,t.getComputedTextLength());
  });
  const sx = cfg.legWidth/longest;
  labels.forEach(function(t){ t.setAttribute('transform','translate('+cfg.legX+' 0) scale('+sx+' 1)'); });
}

drawGsea({
  id:'panel-d', pathways:lungPathways,
  series:[
    {ranks:lungRanks,values:lungArachidonic},{ranks:lungRanks,values:lungComplement},{ranks:lungRanks,values:lungJakStat},
    {ranks:lungRanks,values:lungRigI},{ranks:lungRanks,values:lungInterferon},{ranks:lungRanks,values:lungPlatelet},{ranks:lungRanks,values:lungResponse}],
  rugs:[lungRugArachidonic,lungRugComplement,lungRugJakStat,lungRugRigI,lungRugInterferon,lungRugPlatelet,lungRugResponse],
  rugOrder:[4,3,2,5,6,0,1],
  metricRanks:lungMetricRanks, metricValues:lungMetricValues,
  x0:46.2, pxPerRank:.0278, maxRank:20180,
  score0:643.3, pxPerScore:215.8, top:455, panelBottom:658,
  rugTop:660, rugBottom:700, metric0:722.7, pxPerMetric:1.1, axisY:748,
  scoreTicks:[0,.2,.4,.6,.8], scoreDigits:1, metricTicks:[20,10,0,-10,-20],
  tickShift:[0,-5,-6,-4], tickBase:766.5, titleX:319, titleBase:786,
  clipX:225, clipY:537, yTitleX:14, runTop:453, runBottom:611, rankedTop:653, rankedBottom:760,
  hpxX:107, hpxY:593, highX:59, highY:716, lowX:514, lowY:741,
  swatchX:229, legX:246, legY:406.7, legStep:14.65, legWidth:424
});
drawGsea({
  id:'panel-e', pathways:intestinePathways,
  series:[
    {ranks:intestineRanks,values:intestineArachidonic},{ranks:intestineRanks,values:intestineComplement},{ranks:intestineRanks,values:intestineSteroid},
    {ranks:intestineRanks,values:intestineFatty},{ranks:intestineIl6Ranks,values:intestineIl6},{ranks:intestineRanks,values:intestinePlatelet},{ranks:intestineRanks,values:intestineResponse}],
  rugs:[intestineRugArachidonic,intestineRugComplement,intestineRugSteroid,intestineRugFatty,intestineRugIl6,intestineRugPlatelet,intestineRugResponse],
  rugOrder:[4,3,2,5,6,0,1],
  metricRanks:intestineMetricRanks, metricValues:intestineMetricValues,
  x0:718.6, pxPerRank:.02463, maxRank:21880,
  score0:608.3, pxPerScore:193.3, top:458, panelBottom:655,
  rugTop:656.7, rugBottom:696, metric0:718.7, pxPerMetric:2.03, axisY:742.7,
  scoreTicks:[0,.25,.5,.75], scoreDigits:2, metricTicks:[10,5,0,-5,-10],
  tickShift:[0,-1,-3,-2], tickBase:760, titleX:964, titleBase:786,
  clipX:932, clipY:537, yTitleX:688, runTop:454, runBottom:610, rankedTop:653, rankedBottom:760,
  hpxX:780, hpxY:593, highX:733, highY:711.7, lowX:1163, lowY:734,
  swatchX:938, legX:954, legY:396.7, legStep:14.65, legWidth:423
});
drawGsea({
  id:'panel-f', pathways:brainPathways,
  series:[
    {ranks:brainRanks,values:brainArachidonic},{ranks:brainRanks,values:brainComplement},{ranks:brainRanks,values:brainDrug},
    {ranks:brainJakRanks,values:brainJak},{ranks:brainRanks,values:brainSteroid},{ranks:brainRanks,values:brainFatty},{ranks:brainRanks,values:brainResponse}],
  rugs:[brainRugArachidonic,brainRugComplement,brainRugDrug,brainRugJak,brainRugSteroid,brainRugFatty,brainRugResponse],
  rugOrder:[5,4,3,2,6,0,1],
  metricRanks:brainMetricRanks, metricValues:brainMetricValues,
  x0:46.8, pxPerRank:.02757, maxRank:20380,
  score0:1051, pxPerScore:160, top:881.7, panelBottom:1086.7,
  rugTop:1089, rugBottom:1131.7, metric0:1157.3, pxPerMetric:1.09, axisY:1180,
  scoreTicks:[0,.25,.5,.75], scoreDigits:2, metricTicks:[20,10,0,-10,-20],
  tickShift:[0,-4,-4,-1], tickBase:1196.5, titleX:317, titleBase:1218,
  clipX:225, clipY:955, yTitleX:14, runTop:898, runBottom:1055, rankedTop:1087, rankedBottom:1195,
  hpxX:107, hpxY:1052, highX:59, highY:1150, lowX:523, lowY:1175,
  swatchX:228, legX:244, legY:815.7, legStep:14.65, legWidth:416
});
drawGsea({
  id:'panel-g', pathways:spleenPathways,
  series:[
    {ranks:spleenRanks,values:spleenArachidonic},{ranks:spleenRanks,values:spleenComplement},{ranks:spleenSteroidRanks,values:spleenSteroid},
    {ranks:spleenRanks,values:spleenFatty},{ranks:spleenRanks,values:spleenInterferon},{ranks:spleenRanks,values:spleenPlatelet},{ranks:spleenRanks,values:spleenResponse}],
  rugs:[spleenRugArachidonic,spleenRugComplement,spleenRugSteroid,spleenRugFatty,spleenRugInterferon,spleenRugPlatelet,spleenRugResponse],
  rugOrder:[4,3,2,5,6,0,1],
  metricRanks:spleenMetricRanks, metricValues:spleenMetricValues,
  x0:720.7, pxPerRank:.02583, maxRank:21690,
  score0:1020.7, pxPerScore:167.5, top:881, panelBottom:1085.7,
  rugTop:1088, rugBottom:1128, metric0:1160, pxPerMetric:2.05, axisY:1176.7,
  scoreTicks:[0,.4,.8], scoreDigits:1, metricTicks:[10,5,0,-5],
  tickShift:[-3,-4,-3,-4], tickBase:1194, titleX:975, titleBase:1218,
  clipX:930, clipY:955, yTitleX:688, runTop:870, runBottom:1027, rankedTop:1081.7, rankedBottom:1188,
  hpxX:748, hpxY:1052, highX:731, highY:1152, lowX:1187, lowY:1175,
  swatchX:935, legX:952.4, legY:810.7, legStep:14.65, legWidth:424.6
});
</script>
</body>
</html>
